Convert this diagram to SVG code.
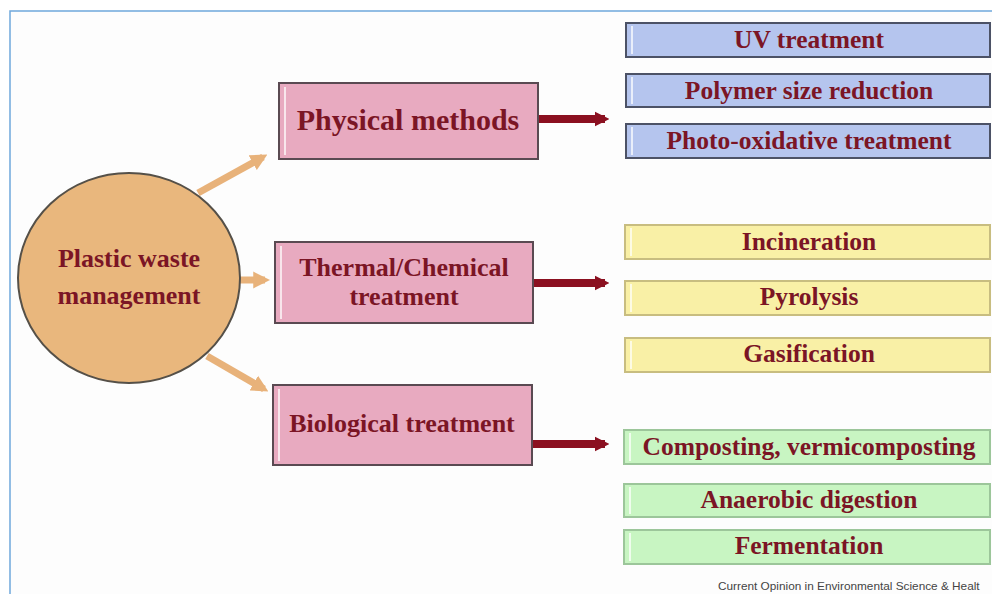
<svg xmlns="http://www.w3.org/2000/svg" width="992" height="594" viewBox="0 0 992 594">
<style>
.t{font-family:"Liberation Serif","Times New Roman",serif;font-weight:bold;fill:#7B1525;text-anchor:middle}
.pk{fill:#E8AAC0;stroke:#5A4A52;stroke-width:2}
.bl{fill:#B5C5EE;stroke:#4C5266;stroke-width:2}
.ye{fill:#F9F0A6;stroke:#C8BD80;stroke-width:2}
.gr{fill:#C8F5C2;stroke:#9CC69A;stroke-width:2}
.hl{stroke:#FFFFFF;stroke-opacity:0.7;stroke-width:2}
.oa{stroke:#E8B27A;stroke-width:7;fill:none}
.ra{stroke:#8B1020;stroke-width:8;fill:none}
.r{font-size:25.5px}
.m{font-size:26px}
</style>
<defs>
<marker id="ho" viewBox="0 0 10 10" refX="7" refY="5" markerWidth="2.4" markerHeight="2.6" orient="auto" markerUnits="strokeWidth"><path d="M0,0 L10,5 L0,10 z" fill="#E8B27A"/></marker>
<marker id="hr" viewBox="0 0 10 10" refX="7" refY="5" markerWidth="1.8" markerHeight="2.4" orient="auto" markerUnits="strokeWidth"><path d="M0,0 L10,5 L0,10 z" fill="#8B1020"/></marker>
</defs>
<rect width="992" height="594" fill="#FFFFFF"/>
<rect x="10" y="11" width="982" height="583" fill="#FDFDFD"/>
<path d="M10,594 V11 H992" fill="none" stroke="#6FA8DC" stroke-width="1.5"/>

<g id="connectors">
<path class="oa" d="M198,193 L263,157" marker-end="url(#ho)"/>
<path class="oa" d="M240,280 L265,280" marker-end="url(#ho)"/>
<path class="oa" d="M207,356 L264,389" marker-end="url(#ho)"/>
<path class="ra" d="M538,119 L605,119" marker-end="url(#hr)"/>
<path class="ra" d="M533,283 L605,283" marker-end="url(#hr)"/>
<path class="ra" d="M532,444 L605,444" marker-end="url(#hr)"/>
</g>

<g id="root">
<ellipse cx="129" cy="278" rx="111" ry="105" fill="#E9B77D" stroke="#555048" stroke-width="2"/>
<text class="t m" x="129" y="267">Plastic waste</text>
<text class="t m" x="129" y="304">management</text>
</g>

<g id="physical">
<rect class="pk" x="279" y="83" width="259" height="76"/>
<line class="hl" x1="285" y1="87" x2="285" y2="155"/>
<text class="t" x="408" y="130" font-size="30">Physical methods</text>
</g>
<g id="thermal">
<rect class="pk" x="275" y="242" width="258" height="81"/>
<line class="hl" x1="281" y1="246" x2="281" y2="319"/>
<text class="t m" x="404" y="276">Thermal/Chemical</text>
<text class="t m" x="404" y="305">treatment</text>
</g>
<g id="biological">
<rect class="pk" x="273" y="385" width="259" height="80"/>
<line class="hl" x1="279" y1="389" x2="279" y2="461"/>
<text class="t m" x="402" y="432">Biological treatment</text>
</g>

<g id="uv"><rect class="bl" x="626" y="23" width="364" height="34"/><line class="hl" x1="632" y1="26" x2="632" y2="54"/><text class="t r" x="809" y="48">UV treatment</text></g>
<g id="polymer"><rect class="bl" x="626" y="74" width="364" height="33"/><line class="hl" x1="632" y1="77" x2="632" y2="104"/><text class="t r" x="809" y="99">Polymer size reduction</text></g>
<g id="photo"><rect class="bl" x="626" y="124" width="364" height="34"/><line class="hl" x1="632" y1="127" x2="632" y2="155"/><text class="t r" x="809" y="149">Photo-oxidative treatment</text></g>

<g id="incineration"><rect class="ye" x="625" y="225" width="365" height="34"/><line class="hl" x1="631" y1="228" x2="631" y2="256"/><text class="t r" x="809" y="250">Incineration</text></g>
<g id="pyrolysis"><rect class="ye" x="625" y="281" width="365" height="34"/><line class="hl" x1="631" y1="284" x2="631" y2="312"/><text class="t r" x="809" y="305">Pyrolysis</text></g>
<g id="gasification"><rect class="ye" x="625" y="338" width="365" height="34"/><line class="hl" x1="631" y1="341" x2="631" y2="369"/><text class="t r" x="809" y="362">Gasification</text></g>

<g id="composting"><rect class="gr" x="624" y="430" width="366" height="34"/><line class="hl" x1="630" y1="433" x2="630" y2="461"/><text class="t r" x="809" y="455">Composting, vermicomposting</text></g>
<g id="anaerobic"><rect class="gr" x="624" y="484" width="366" height="33"/><line class="hl" x1="630" y1="487" x2="630" y2="514"/><text class="t r" x="809" y="508">Anaerobic digestion</text></g>
<g id="fermentation"><rect class="gr" x="624" y="530" width="366" height="34"/><line class="hl" x1="630" y1="533" x2="630" y2="561"/><text class="t r" x="809" y="554">Fermentation</text></g>

<text x="718" y="590" font-family="Liberation Sans,Arial,sans-serif" font-size="11.8" fill="#444444">Current Opinion in Environmental Science &amp; Healt</text>
</svg>
